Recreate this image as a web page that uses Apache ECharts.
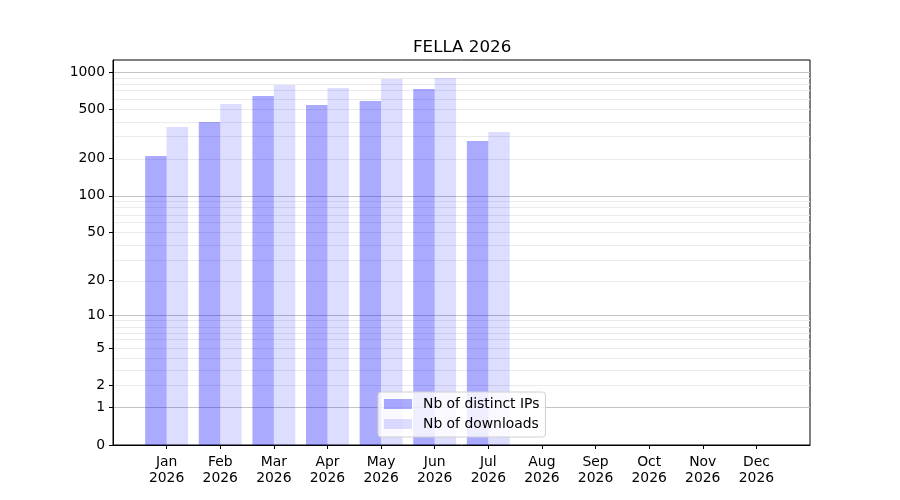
<!DOCTYPE html>
<html>
<head>
<meta charset="utf-8">
<script src="https://cdn.jsdelivr.net/npm/echarts@6/dist/echarts.min.js"></script>
<style>
  html, body { margin: 0; padding: 0; background: #fff; }
  #chart { width: 900px; height: 500px; }
</style>
</head>
<body>
<div id="chart"></div>
<script>
// data (Jan..Jul, nothing after)
const months = ['Jan', 'Feb', 'Mar', 'Apr', 'May', 'Jun', 'Jul', 'Aug', 'Sep', 'Oct', 'Nov', 'Dec'];
const year = '2026';
const distinctIps = [210, 396, 642, 543, 585, 730, 278];
const downloads = [361, 553, 787, 744, 879, 895, 329];
const tickValues = [0, 1, 2, 5, 10, 20, 50, 100, 200, 500, 1000];
const majorLines = [1, 10, 100, 1000];
const minorLines = [2, 3, 4, 5, 6, 7, 8, 9, 20, 30, 40, 50, 60, 70, 80, 90,
  200, 300, 400, 500, 600, 700, 800, 900];

// y scale is log10(1 + v)
const f = (v) => Math.log10(1 + v);
const inv = (t) => Math.round(Math.pow(10, t) - 1);

// one empty slot on each side so Jan sits one band in from the frame
const categories = [''].concat(months.map((m) => m + '\n' + year), ['']);
const pad = (arr) => {
  const out = [null].concat(arr.map(f));
  while (out.length < categories.length) out.push(null);
  return out;
};

const chart = echarts.init(document.getElementById('chart'));
const font = 'DejaVu Sans';

const option = {
  animation: false,
  textStyle: { fontFamily: font },
  title: {
    text: 'FELLA 2026',
    left: 408,
    top: 34,
    textStyle: { fontFamily: font, fontSize: 16.7, fontWeight: 'normal', color: '#000' }
  },
  grid: {
    left: 113, right: 90, top: 60, bottom: 55,
    show: true, borderColor: '#000', borderWidth: 1, backgroundColor: 'transparent'
  },
  legend: {
    orient: 'vertical',
    left: 378,
    top: 392,
    icon: 'rect',
    itemWidth: 28,
    itemHeight: 10,
    itemGap: 6,
    padding: [5, 6, 6, 6],
    backgroundColor: 'rgba(255,255,255,0.8)',
    borderColor: '#d0d0d0',
    borderWidth: 1,
    borderRadius: 3,
    textStyle: { fontFamily: font, fontSize: 13.9, color: '#000', padding: [0, 0, 0, 6] },
    data: ['Nb of distinct IPs', 'Nb of downloads']
  },
  xAxis: {
    type: 'category',
    boundaryGap: false,
    data: categories,
    axisLine: { lineStyle: { color: '#000', width: 1 } },
    axisTick: {
      interval: (i) => i > 0 && i < categories.length - 1,
      length: 4,
      lineStyle: { color: '#000' }
    },
    axisLabel: {
      interval: 0,
      color: '#000',
      fontFamily: font,
      fontSize: 13.9,
      lineHeight: 16,
      margin: 9
    },
    splitLine: { show: false }
  },
  yAxis: {
    type: 'value',
    min: 0,
    max: 3.097,
    axisLine: { show: true, lineStyle: { color: '#000', width: 1 } },
    axisTick: {
      show: true,
      customValues: tickValues.map(f),
      length: 4,
      lineStyle: { color: '#000' }
    },
    axisLabel: {
      customValues: tickValues.map(f),
      formatter: (t) => String(inv(t)),
      color: '#000',
      fontFamily: font,
      fontSize: 13.9,
      margin: 8
    },
    splitLine: { show: false }
  },
  series: [
    {
      name: 'grid',
      type: 'line',
      data: [],
      z: 0,
      silent: true,
      markLine: {
        z: 0,
        silent: true,
        symbol: 'none',
        label: { show: false },
        animation: false,
        data: minorLines.map((v) => ({ yAxis: f(v), lineStyle: { color: '#ebebeb', width: 1, type: 'solid' } }))
          .concat(majorLines.map((v) => ({ yAxis: f(v), lineStyle: { color: '#c4c4c4', width: 1, type: 'solid' } })))
      }
    },
    {
      name: 'Nb of distinct IPs',
      type: 'bar',
      z: 2,
      barWidth: '40%',
      barGap: '0%',
      itemStyle: { color: 'rgba(0,0,255,0.333)' },
      data: pad(distinctIps)
    },
    {
      name: 'Nb of downloads',
      type: 'bar',
      z: 2,
      barWidth: '40%',
      barGap: '0%',
      itemStyle: { color: 'rgba(0,0,255,0.133)' },
      data: pad(downloads)
    }
  ]
};

chart.setOption(option);
</script>
</body>
</html>
